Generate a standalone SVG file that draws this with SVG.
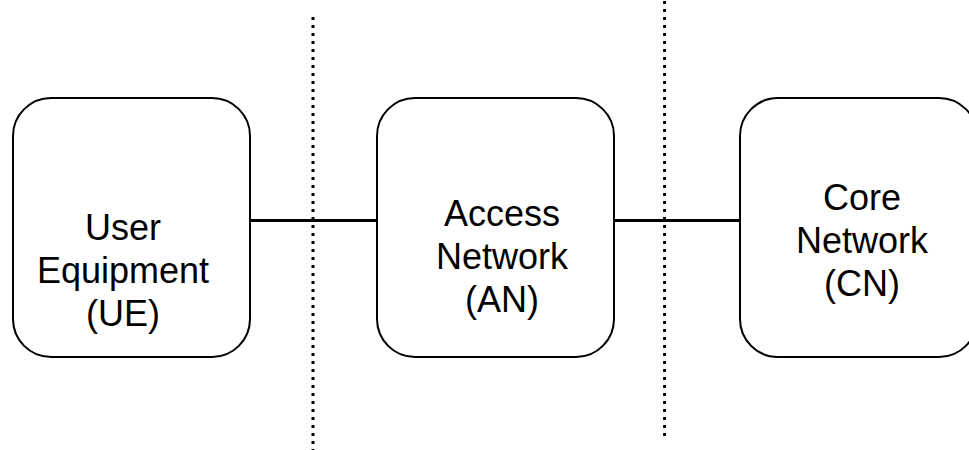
<svg xmlns="http://www.w3.org/2000/svg" width="969" height="450" viewBox="0 0 969 450">
<style>
.box{fill:#fff;stroke:#000;stroke-width:2}
.lbl{font-family:"Liberation Sans",Arial,sans-serif;font-size:36px;fill:#000;text-anchor:middle}
.conn{stroke:#000;stroke-width:3;fill:none}
.dot{stroke:#000;stroke-width:3;stroke-dasharray:3 5;fill:none}
</style>
<rect width="969" height="450" fill="#fff"/>
<g id="dividers">
<line class="dot" x1="313" y1="17" x2="313" y2="450"/>
<line class="dot" x1="664.5" y1="1" x2="664.5" y2="438"/>
</g>
<g id="connectors">
<line class="conn" x1="250" y1="220.5" x2="377" y2="220.5"/>
<line class="conn" x1="614" y1="220.5" x2="740" y2="220.5"/>
</g>
<g id="ue">
<rect class="box" x="13" y="98" width="237" height="259" rx="38" ry="38"/>
<text class="lbl" x="123"><tspan x="123" y="240">User</tspan><tspan x="123" y="283">Equipment</tspan><tspan x="123" y="326">(UE)</tspan></text>
</g>
<g id="an">
<rect class="box" x="377" y="98" width="237" height="259" rx="38" ry="38"/>
<text class="lbl" x="502"><tspan x="502" y="226">Access</tspan><tspan x="502" y="269">Network</tspan><tspan x="502" y="312">(AN)</tspan></text>
</g>
<g id="cn">
<rect class="box" x="740" y="98" width="237" height="259" rx="38" ry="38"/>
<text class="lbl" x="862"><tspan x="862" y="210">Core</tspan><tspan x="862" y="253">Network</tspan><tspan x="862" y="296">(CN)</tspan></text>
</g>
</svg>
